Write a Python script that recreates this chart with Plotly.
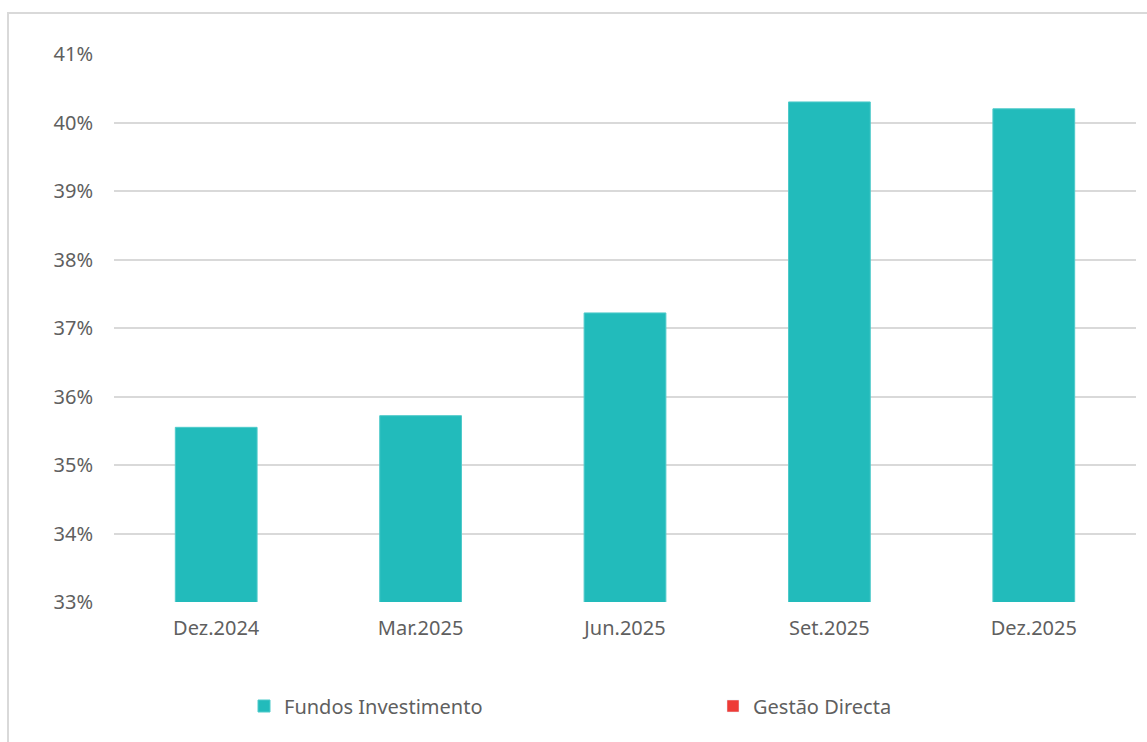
import plotly.graph_objects as go

categories = ["Dez.2024", "Mar.2025", "Jun.2025", "Set.2025", "Dez.2025"]
fundos_investimento = [35.55, 35.72, 37.22, 40.30, 40.20]
gestao_directa = [None, None, None, None, None]
y_ticks = [33, 34, 35, 36, 37, 38, 39, 40, 41]
y_tick_labels = ["33%", "34%", "35%", "36%", "37%", "38%", "39%", "40%", "41%"]

W, H = 1147, 742
L, R, T, B = 114, 11, 54, 140
pw, ph = W - L - R, H - T - B

def px_x(x):
    return (x - L) / pw

def px_y(y):
    return (H - B - y) / ph

fig = go.Figure()
fig.add_trace(go.Bar(
    x=categories, y=fundos_investimento, name="Fundos Investimento",
    marker=dict(color="#22BBBB", line=dict(color="#4fcaca", width=1)),
    width=0.4, legend="legend",
))
fig.add_trace(go.Bar(
    x=categories, y=gestao_directa, name="Gestão Directa",
    marker=dict(color="#EE3B36"), width=0.4, showlegend=True, legend="legend2",
))

font_family = "Noto Sans"
txt = "#5f5f5f"
legend_common = dict(
    orientation="h", yanchor="middle", xanchor="left",
    font=dict(family=font_family, size=20, color=txt),
    bgcolor="rgba(0,0,0,0)",
)
fig.update_layout(
    width=W, height=H,
    margin=dict(l=L, r=R, t=T, b=B, autoexpand=False),
    paper_bgcolor="white", plot_bgcolor="white",
    barmode="overlay",
    font=dict(family=font_family, size=20, color=txt),
    showlegend=True,
    legend=dict(x=px_x(244), y=px_y(706), **legend_common),
    legend2=dict(x=px_x(713), y=px_y(706), **legend_common),
    xaxis=dict(
        type="category", showgrid=False, showline=False, zeroline=False,
        ticks="", ticklabelstandoff=12,
        tickfont=dict(family=font_family, size=20, color=txt),
    ),
    yaxis=dict(
        range=[33, 41], tickvals=y_ticks, ticktext=y_tick_labels,
        showgrid=True, gridcolor="#d9d9d9", gridwidth=1.5,
        zeroline=False, showline=False, ticks="", ticklabelstandoff=20,
        tickfont=dict(family=font_family, size=20, color=txt),
    ),
    shapes=[dict(
        type="rect", xref="paper", yref="paper",
        x0=px_x(8), x1=px_x(1160), y0=px_y(760), y1=px_y(13),
        line=dict(color="#d9d9d9", width=2), fillcolor="rgba(0,0,0,0)", layer="below",
    )],
)

fig.write_html(
    "out.html",
    config={"displayModeBar": False},
    post_script="document.body.style.margin='0';document.body.style.overflow='hidden';",
)
